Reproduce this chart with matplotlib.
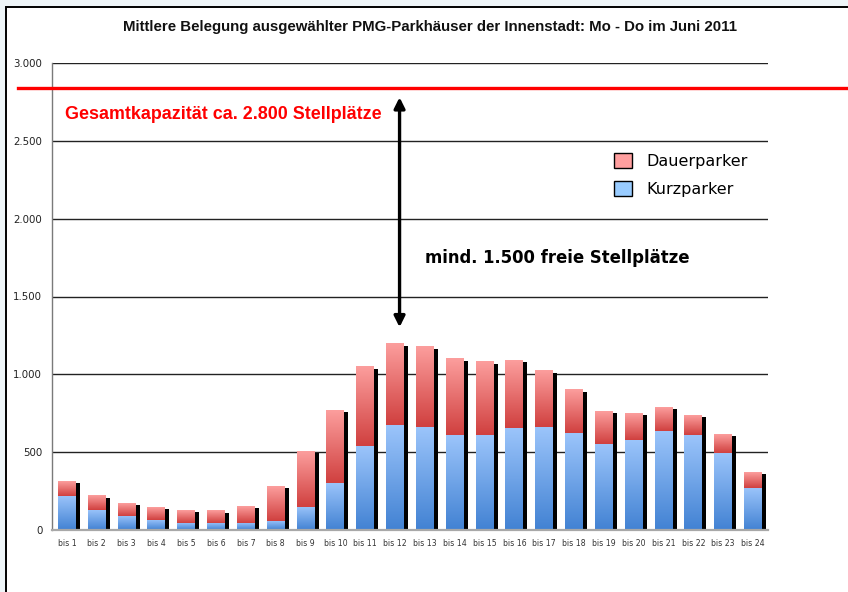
import matplotlib
matplotlib.use("Agg")
import matplotlib.pyplot as plt
import numpy as np
from matplotlib.colors import LinearSegmentedColormap
from matplotlib.patches import Patch, Rectangle
from matplotlib.ticker import FuncFormatter

# ---- data ----
hours = [f"bis {i}" for i in range(1, 25)]
kurzparker = [220, 130, 92, 66, 47, 47, 47, 60, 149, 303, 540, 675,
              662, 611, 611, 656, 662, 624, 554, 579, 637, 611, 496, 272]
gesamt = [316, 220, 175, 149, 130, 124, 156, 284, 508, 771, 1047, 1195,
          1176, 1099, 1080, 1092, 1022, 900, 765, 752, 790, 739, 617, 374]
dauerparker = [g - k for g, k in zip(gesamt, kurzparker)]
kapazitaet = 2835
arrow_top, arrow_bottom = 2778, 1303

W, H = 848, 592
fig = plt.figure(figsize=(W / 100, H / 100), dpi=100)
fig.patch.set_facecolor("#EEF5F8")
fig.patches.append(Rectangle((6 / W, -0.05), 1.1, (H - 7) / H + 0.05,
                             transform=fig.transFigure, facecolor="white",
                             edgecolor="black", linewidth=1.4, zorder=-10))

ax = fig.add_axes([52 / W, (H - 530.3) / H, 716 / W, (530.3 - 62.7) / H])
ax.set_facecolor("none")

x = np.arange(len(hours))
bw = 0.6

blue_cm = LinearSegmentedColormap.from_list("blue", ["#4282D3", "#9CC5FB"])
red_cm = LinearSegmentedColormap.from_list("red", ["#D0403F", "#FC9E9D"])
grad = np.linspace(0, 1, 128).reshape(-1, 1)

# shadows
ax.bar(x + 0.135, np.array(gesamt) - 13, width=bw, color="black", zorder=2)

kp = ax.bar(x, kurzparker, width=bw, color="none", zorder=3)
dp = ax.bar(x, dauerparker, bottom=kurzparker, width=bw, color="none", zorder=3)

for bars, cm in ((kp, blue_cm), (dp, red_cm)):
    for b in bars:
        x0, y0 = b.get_x(), b.get_y()
        ax.imshow(grad, cmap=cm, origin="lower", aspect="auto", zorder=3,
                  extent=[x0, x0 + b.get_width(), y0, y0 + b.get_height()])

ax.set_xlim(-0.5, len(hours) - 0.5)
ax.set_ylim(0, 3000)
ax.set_yticks(range(0, 3001, 500))
ax.yaxis.set_major_formatter(FuncFormatter(lambda v, _: f"{v:,.0f}".replace(",", ".")))
ax.set_xticks(x)
ax.set_xticklabels(hours, fontsize=5.6, color="#333333")
ax.tick_params(axis="y", length=0, pad=7, labelsize=7.4, labelcolor="#222222")
ax.tick_params(axis="x", length=0, pad=6)

for v in range(500, 3001, 500):
    ax.axhline(v, color="#222222", linewidth=1, zorder=1)

for s in ("top", "right"):
    ax.spines[s].set_visible(False)
ax.spines["left"].set_color("#7A7A7A")
ax.spines["left"].set_linewidth(1)
ax.spines["bottom"].set_color("#A8A8A8")
ax.spines["bottom"].set_linewidth(1.6)
ax.spines["bottom"].set_zorder(4)

# capacity line
ax.axhline(kapazitaet, xmin=(18 - 52) / 716, xmax=(846 - 52) / 716,
           color="#FF0000", linewidth=2.4, clip_on=False, zorder=5)

ax.annotate("", xy=(11.15, arrow_bottom), xytext=(11.15, arrow_top),
            arrowprops=dict(arrowstyle="<|-|>", color="black", lw=2.4,
                            mutation_scale=16, shrinkA=0, shrinkB=0), zorder=6)

ax.text(-0.07, 2669, "Gesamtkapazität ca. 2.800 Stellplätze", color="#FF0000",
        fontsize=12.9, fontweight="bold", ha="left", va="center",
        family="Liberation Sans")
ax.text(12.0, 1745, "mind. 1.500 freie Stellplätze", color="black",
        fontsize=11.9, fontweight="bold", ha="left", va="center")

fig.text(430 / W, 1 - 27 / H,
         "Mittlere Belegung ausgewählter PMG-Parkhäuser der Innenstadt: Mo - Do im Juni 2011",
         ha="center", va="center", fontsize=10.8, fontweight="bold", color="#111111",
         family="Liberation Sans")

handles = [Patch(facecolor="#FF9F9F", edgecolor="black", linewidth=1),
           Patch(facecolor="#99CCFF", edgecolor="black", linewidth=1)]
ax.legend(handles, ["Dauerparker", "Kurzparker"], loc="upper left",
          bbox_to_anchor=(0.765, 0.838), frameon=False, fontsize=11.5,
          handlelength=1.1, handleheight=1.1, handletextpad=0.9,
          labelspacing=0.75)

fig.savefig("out.png", dpi=100, facecolor=fig.get_facecolor())
